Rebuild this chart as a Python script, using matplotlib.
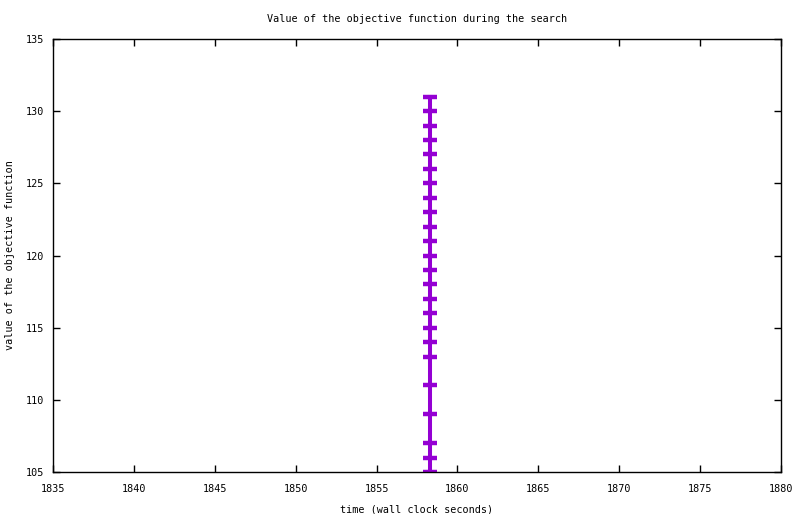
import matplotlib
matplotlib.use("Agg")
import matplotlib.pyplot as plt

times = [1858.3] * 24
values = [105, 106, 107, 109, 111, 113, 114, 115, 116, 117, 118, 119, 120,
          121, 122, 123, 124, 125, 126, 127, 128, 129, 130, 131]
xticks = [1835, 1840, 1845, 1850, 1855, 1860, 1865, 1870, 1875, 1880]
yticks = [105, 110, 115, 120, 125, 130, 135]

plt.rcParams['font.family'] = ['DejaVu Sans Mono']
fig = plt.figure(figsize=(8, 5.14), dpi=100)
ax = fig.add_axes([53/800, 1 - 472/514, (781-53)/800, (472-39)/514])
ax.plot(times, values, color='#9400D3', lw=2.9, marker='_', ms=10, mew=3.2)
ax.set_xlim(1835, 1880)
ax.set_ylim(105, 135)
ax.set_xticks(xticks)
ax.set_yticks(yticks)
ax.tick_params(direction='in', top=True, right=True, length=5, labelsize=7.3, width=1)
ax.tick_params(axis='x', pad=8.5)
ax.tick_params(axis='y', pad=6.5)
for s in ax.spines.values():
    s.set_linewidth(1)
ax.set_title('Value of the objective function during the search', fontsize=7.3, pad=12.5)
ax.set_xlabel('time (wall clock seconds)', fontsize=7.3, labelpad=7.5)
ax.set_ylabel('value of the objective function', fontsize=7.3, labelpad=7.5)
fig.savefig('out.png', dpi=100)
